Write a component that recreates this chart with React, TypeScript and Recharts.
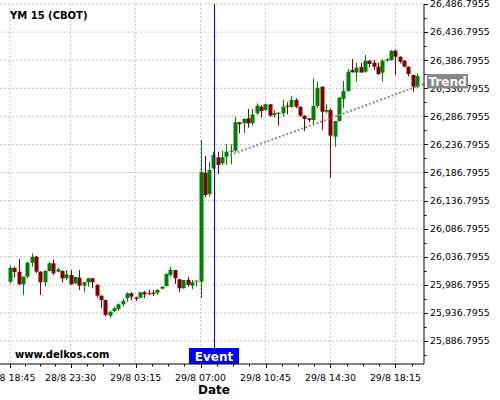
import React from 'react';
import { ComposedChart, Bar, Line, XAxis, YAxis, CartesianGrid, ReferenceLine, Label } from 'recharts';

const opens = [
  25992.4, 26016.8, 26010.2, 25987.8, 26001.3, 26026.2, 26036.9, 26010.2, 25991.3, 26011.4,
  26025.1, 26010.2, 26011.4, 25998.4, 26004.3, 25989.5, 25999.5, 25985.3, 25991.3, 25998.4,
  25986.5, 25967.5, 25959.8, 25931.8, 25940.2, 25943.8, 25952.2, 25962.8, 25971.7, 25963.9,
  25963.9, 25973.5, 25971.7, 25972.8, 25972.8, 25979.9, 25984.7, 26004.3, 26013.2, 25996.7,
  25980.6, 25995.4, 25985.3, 25992.4, 25992.4, 26186.5, 26148.5, 26194.3, 26213.9, 26203.2,
  26214.9, 26223.8, 26225.6, 26276.2, 26274.4, 26283.3, 26274.4, 26292.2, 26303.9, 26298.1,
  26308.2, 26289.2, 26293.3, 26292.2, 26305.7, 26303.9, 26315.9, 26303.9, 26287.9, 26283.3,
  26280.4, 26305.2, 26339.6, 26295.0, 26298.1, 26250.5, 26278.5, 26317.7, 26331.9, 26369.3,
  26364.8, 26374.6, 26366.3, 26385.9, 26382.3, 26375.2, 26364.5, 26385.9, 26387.3, 26403.6,
  26392.9, 26385.9, 26375.2, 26360.4, 26339.6,
];
const highs = [
  26020.9, 26019.1, 26032.8, 26001.3, 26028.0, 26042.9, 26038.0, 26011.0, 26013.2, 26028.0,
  26032.3, 26017.3, 26012.5, 26013.2, 26013.2, 26001.5, 26013.2, 25992.0, 25999.5, 25999.0,
  25987.8, 25968.0, 25960.5, 25940.2, 25947.9, 25953.9, 25962.8, 25973.5, 25973.5, 25965.7,
  25973.8, 25975.8, 25977.6, 25977.6, 25978.8, 25984.7, 26007.3, 26019.1, 26013.5, 25997.0,
  25995.6, 26001.3, 25995.4, 25994.5, 26244.7, 26216.2, 26206.0, 26223.8, 26223.8, 26225.6,
  26237.5, 26237.0, 26286.1, 26277.0, 26283.3, 26299.9, 26299.9, 26310.0, 26307.0, 26310.0,
  26308.5, 26298.1, 26293.5, 26315.9, 26311.8, 26323.5, 26318.9, 26304.5, 26288.5, 26283.5,
  26354.5, 26348.5, 26340.0, 26308.2, 26301.1, 26279.0, 26321.8, 26349.7, 26371.1, 26388.9,
  26381.8, 26381.8, 26396.0, 26386.5, 26387.1, 26382.3, 26388.3, 26390.1, 26404.9, 26406.1,
  26393.5, 26386.5, 26375.5, 26361.0, 26363.4,
];
const lows = [
  25989.5, 25999.6, 25986.0, 25968.7, 25998.4, 26019.1, 26008.0, 25968.7, 25983.5, 26010.2,
  26004.3, 26009.1, 25991.3, 25995.4, 25986.5, 25987.8, 25977.6, 25973.5, 25983.5, 25980.6,
  25963.9, 25945.0, 25930.1, 25928.3, 25937.9, 25940.2, 25947.9, 25956.8, 25959.8, 25958.0,
  25962.5, 25962.8, 25968.7, 25966.9, 25968.7, 25978.8, 25983.5, 26001.3, 25988.3, 25973.5,
  25980.0, 25983.5, 25978.8, 25983.5, 25962.8, 26142.6, 26143.7, 26192.5, 26184.1, 26200.2,
  26200.2, 26201.4, 26223.8, 26256.6, 26257.1, 26266.6, 26270.1, 26289.2, 26284.4, 26296.3,
  26286.1, 26284.4, 26270.1, 26286.1, 26290.4, 26301.1, 26301.1, 26286.1, 26260.7, 26276.2,
  26271.4, 26301.1, 26262.5, 26292.2, 26176.5, 26232.7, 26277.3, 26301.1, 26330.7, 26364.7,
  26348.5, 26364.5, 26364.5, 26374.1, 26369.3, 26360.4, 26348.5, 26384.1, 26385.9, 26360.4,
  26381.2, 26374.1, 26357.4, 26330.6, 26337.0,
];
const closes = [
  26017.3, 26009.7, 25987.8, 26001.3, 26026.2, 26036.9, 26010.2, 25991.3, 26011.4, 26025.1,
  26007.3, 26014.5, 25998.4, 26005.5, 25987.8, 26000.8, 25985.3, 25991.3, 25998.4, 25991.3,
  25967.5, 25959.8, 25933.1, 25938.9, 25945.0, 25952.2, 25958.0, 25971.7, 25965.7, 25961.6,
  25973.5, 25969.9, 25970.5, 25970.5, 25977.6, 25983.5, 26006.1, 26013.2, 25998.4, 25980.6,
  25995.4, 25986.5, 25991.3, 25994.2, 26187.7, 26146.7, 26191.2, 26218.0, 26200.2, 26213.9,
  26223.8, 26225.6, 26276.2, 26272.6, 26282.1, 26274.4, 26290.4, 26305.7, 26296.3, 26308.2,
  26287.9, 26292.2, 26291.5, 26303.9, 26303.9, 26315.9, 26303.9, 26287.9, 26282.1, 26280.4,
  26305.2, 26337.8, 26295.0, 26298.1, 26252.3, 26278.5, 26320.0, 26331.9, 26366.3, 26365.2,
  26373.4, 26364.8, 26385.9, 26379.9, 26375.2, 26362.2, 26385.9, 26388.3, 26403.6, 26392.9,
  26384.1, 26375.2, 26362.2, 26339.6, 26358.6,
];

const xTickIdx = [0, 14, 29, 44, 59, 74, 89];
const xTickLabels = ['28/8 18:45', '28/8 23:30', '29/8 03:15', '29/8 07:00', '29/8 10:45', '29/8 14:30', '29/8 18:15'];
const xMinorIdx = [3.5, 7, 10.5, 17.75, 21.5, 25.25, 32.75, 36.5, 40.25, 47.75, 51.5, 55.25, 62.75, 66.5, 70.25, 77.75, 81.5, 85.25, 92.75];
const xDomain = [-2.31, 95.6];

const yMajor = [
  25886.7955, 25936.7955, 25986.7955, 26036.7955, 26086.7955, 26136.7955, 26186.7955,
  26236.7955, 26286.7955, 26336.7955, 26386.7955, 26436.7955, 26486.7955,
];
const yMinor = [
  25861.7955, 25911.7955, 25961.7955, 26011.7955, 26061.7955, 26111.7955, 26161.7955,
  26211.7955, 26261.7955, 26311.7955, 26361.7955, 26411.7955, 26461.7955,
];
const yDomain = [25845.8, 26486.7955];

const eventIdx = 47.1;
const eventText = 'Event';
const trendX = [50.8, 95.6];
const trendY = [26217.9, 26344.4];
const trendText = 'Trend';
const titleText = 'YM 15 (CBOT)';
const siteText = 'www.delkos.com';
const xAxisTitle = 'Date';

const data = opens.map((o, i) => ({
  i,
  open: o,
  high: highs[i],
  low: lows[i],
  close: closes[i],
  range: [lows[i], highs[i]],
}));
const trendData = trendX.map((x, k) => ({ i: x, trend: trendY[k] }));

// chart layout (margins / axis sizes)
const W = 500;
const H = 400;
const MARGIN_TOP = 4;
const Y_AXIS_W = 76;
const X_AXIS_H = 36;
const PLOT_RIGHT = W - Y_AXIS_W;
const PLOT_H = H - MARGIN_TOP - X_AXIS_H;

const FONT = 'DejaVu Sans';
const UP = '#008000';
const DOWN = '#800000';

const fmt = (v: number) =>
  v.toLocaleString('en-US', { minimumFractionDigits: 4, maximumFractionDigits: 4 });
const isMajorY = (v: number) => yMajor.some((m) => Math.abs(m - v) < 1e-6);
const valueToY = (v: number) =>
  MARGIN_TOP + ((yDomain[1] - v) / (yDomain[1] - yDomain[0])) * PLOT_H;

const Candle = (props: any) => {
  const { x, y, width, height, payload } = props;
  if (x == null || y == null || !payload) return null;
  const { open, close, high, low } = payload;
  const cx = Math.round(x + width / 2);
  const top = Math.min(y, y + height);
  const bot = Math.max(y, y + height);
  const span = high - low;
  const toY = (v: number) => (span === 0 ? top : top + ((high - v) / span) * (bot - top));
  const up = close >= open;
  const color = up ? UP : DOWN;
  const bTop = toY(Math.max(open, close));
  const bBot = toY(Math.min(open, close));
  return (
    <g>
      <line x1={cx + 0.5} x2={cx + 0.5} y1={top} y2={bot} stroke={color} strokeWidth={1} />
      <rect x={cx - 1.5} y={bTop} width={4} height={Math.max(1, bBot - bTop)} fill={color} />
    </g>
  );
};

const YTick = (props: any) => {
  const { x, y, payload } = props;
  const v = payload.value;
  const major = isMajorY(v);
  const yy = Math.round(y) + 0.5;
  return (
    <g>
      <line x1={x} x2={x + (major ? 4 : 2.5)} y1={yy} y2={yy} stroke="#000" strokeWidth={1} />
      {major && (
        <text x={x + 6} y={y + 3.4} fontSize={9.4} fontFamily={FONT} fill="#000">
          {fmt(v)}
        </text>
      )}
    </g>
  );
};

const XTick = (props: any) => {
  const { x, y, payload } = props;
  const k = xTickIdx.indexOf(payload.value);
  const major = k >= 0;
  const xx = Math.round(x) + 0.5;
  return (
    <g>
      <line x1={xx} x2={xx} y1={y} y2={y + (major ? 4 : 2.5)} stroke="#000" strokeWidth={1} />
      {major && (
        <text x={x} y={y + 16.5} textAnchor="middle" fontSize={9.4} fontFamily={FONT} fill="#000">
          {xTickLabels[k]}
        </text>
      )}
    </g>
  );
};

const EventLabel = (props: any) => {
  const vb = props.viewBox || {};
  const x = vb.x;
  const top = vb.y;
  const bottom = vb.y + vb.height;
  const lx = Math.round(x) + 0.5;
  return (
    <g>
      <line x1={lx} x2={lx} y1={top} y2={bottom} stroke="#0000ff" strokeWidth={1} />
      <rect x={x - 25} y={bottom - 16} width={50} height={16} fill="#0000ff" />
      <text x={x} y={bottom - 3.5} textAnchor="middle" fill="#ffffff" fontWeight="bold" fontSize={12} fontFamily={FONT}>
        {eventText}
      </text>
    </g>
  );
};

export default function App() {
  const tagY = valueToY(trendY[trendY.length - 1]);
  return (
    <div style={{ position: 'absolute', left: 0, top: 0, width: W, height: H, background: '#fff' }}>
      <ComposedChart width={W} height={H} data={data} margin={{ top: MARGIN_TOP, right: 0, left: 0, bottom: 0 }}>
        <CartesianGrid
          stroke="#c4c4c4"
          strokeDasharray="2 2"
          horizontalValues={yMajor}
          verticalValues={xTickIdx}
        />
        <XAxis
          dataKey="i"
          type="number"
          domain={xDomain}
          allowDataOverflow
          ticks={[...xTickIdx, ...xMinorIdx].sort((a, b) => a - b)}
          interval={0}
          height={X_AXIS_H}
          tickSize={0}
          tickMargin={0}
          tickLine={false}
          axisLine={{ stroke: '#000', strokeWidth: 1 }}
          tick={<XTick />}
        >
          <Label
            content={(p: any) => {
              const vb = p.viewBox || {};
              return (
                <text x={vb.x + vb.width / 2 + 2} y={vb.y + 30} textAnchor="middle" fontWeight="bold" fontSize={12} fontFamily={FONT} fill="#000">
                  {xAxisTitle}
                </text>
              );
            }}
          />
        </XAxis>
        <YAxis
          orientation="right"
          type="number"
          domain={yDomain}
          allowDataOverflow
          ticks={[...yMajor, ...yMinor].sort((a, b) => a - b)}
          interval={0}
          width={Y_AXIS_W}
          tickSize={0}
          tickMargin={0}
          tickLine={false}
          axisLine={{ stroke: '#000', strokeWidth: 1 }}
          tick={<YTick />}
        />
        <Bar dataKey="range" barSize={4} shape={<Candle />} isAnimationActive={false} />
        <Line
          data={trendData}
          dataKey="trend"
          stroke="#8c8c8c"
          strokeWidth={2}
          strokeDasharray="2 2"
          dot={false}
          activeDot={false}
          isAnimationActive={false}
        />
        <ReferenceLine x={eventIdx} stroke="#0000ff" strokeOpacity={0} strokeWidth={1} label={<EventLabel />} />
      </ComposedChart>
      <svg width={W} height={H} style={{ position: 'absolute', left: 0, top: 0, pointerEvents: 'none' }}>
        <text x={10} y={19} fontWeight="bold" fontSize={10} fontFamily={FONT} fill="#000">
          {titleText}
        </text>
        <text x={15} y={357.5} fontWeight="bold" fontSize={10} fontFamily={FONT} fill="#000">
          {siteText}
        </text>
        <rect x={PLOT_RIGHT + 3} y={tagY - 10} width={41} height={14.5} fill="#868686" />
        <text x={PLOT_RIGHT + 23.5} y={tagY + 1.8} textAnchor="middle" fill="#ffffff" fontWeight="bold" fontSize={12} fontFamily={FONT}>
          {trendText}
        </text>
      </svg>
    </div>
  );
}
